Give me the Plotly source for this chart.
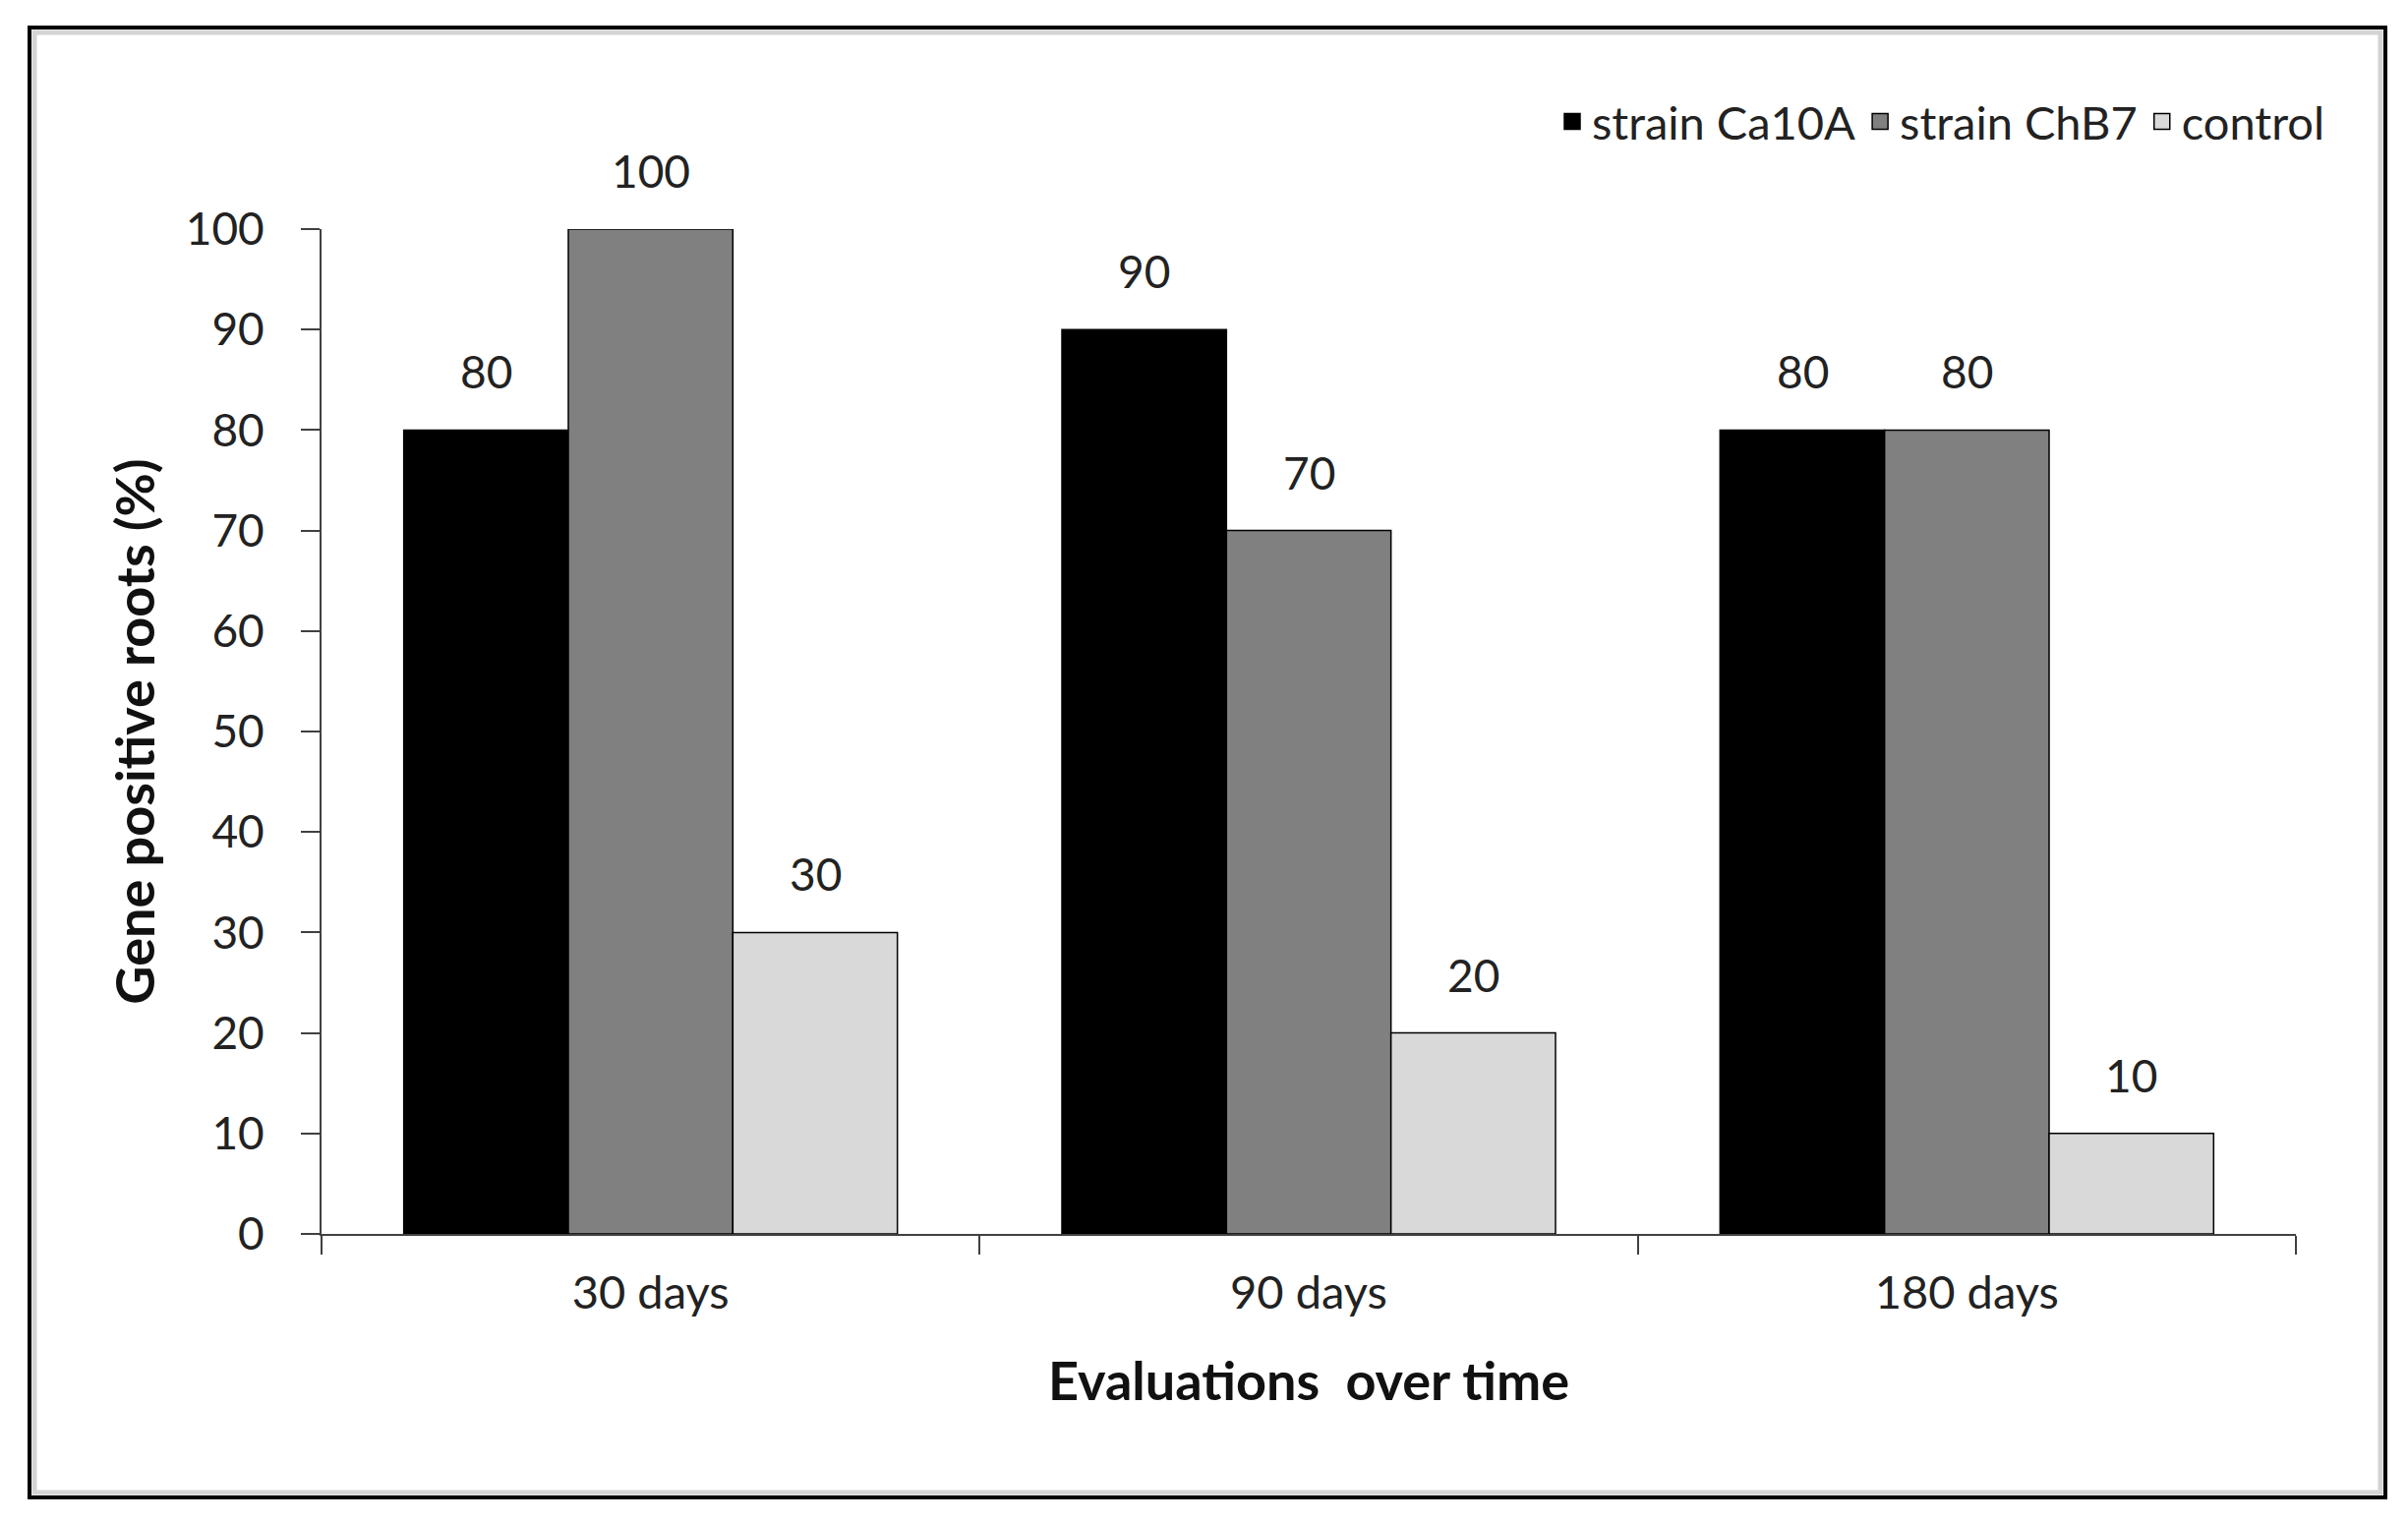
import plotly.graph_objects as go

categories = ["30 days", "90 days", "180 days"]
series_names = ["strain Ca10A", "strain ChB7", "control"]
ca10a = [80, 90, 80]
chb7 = [100, 70, 80]
control = [30, 20, 10]
series_values = [ca10a, chb7, control]
colors = ["#000000", "#808080", "#d9d9d9"]
y_ticks = [0, 10, 20, 30, 40, 50, 60, 70, 80, 90, 100]

FONT = "Lato"
W, H = 2449, 1548
L, R, T, B = 319, 122, 225, 301

fig = go.Figure()
for name, vals, col in zip(series_names, series_values, colors):
    fig.add_trace(go.Bar(
        x=categories, y=vals, name=name, showlegend=False,
        marker=dict(color=col, line=dict(color="#000000", width=1.5)),
        cliponaxis=False,
    ))
# legend entries with larger square swatches
for name, col in zip(series_names, colors):
    fig.add_trace(go.Scatter(
        x=[None], y=[None], mode="markers", name=name,
        marker=dict(symbol="square", size=24, color=col,
                    line=dict(color="#000000", width=1.5)),
    ))

# data labels above bars
nser = len(series_values)
bw = 0.75 / nser
for si, vals in enumerate(series_values):
    off = -0.375 + bw * (si + 0.5)
    for ci, v in enumerate(vals):
        fig.add_annotation(
            x=ci + off, y=v, xref="x", yref="y", text=str(v),
            showarrow=False, yanchor="bottom", yshift=30,
            font=dict(family=FONT, size=46, color="#222222"),
        )

pw = W - L - R
ph = H - T - B
def px(xp):
    return (xp - L) / pw
def py(yp):
    return (H - B - yp) / ph

# outer frame with grey inner shadow
fig.add_shape(type="rect", xref="paper", yref="paper",
              x0=px(27), x1=px(2413), y0=py(1510), y1=py(25),
              line=dict(color="#d4d4d4", width=5), layer="below")
fig.add_shape(type="rect", xref="paper", yref="paper",
              x0=px(22), x1=px(2418), y0=py(1515), y1=py(20),
              line=dict(color="#000000", width=4), layer="below")

fig.update_layout(
    width=W, height=H,
    margin=dict(l=L, r=R, t=T, b=B),
    paper_bgcolor="white", plot_bgcolor="white",
    barmode="group", bargap=0.25, bargroupgap=0,
    font=dict(family=FONT, size=46, color="#222222"),
    showlegend=True,
    legend=dict(
        orientation="h", x=px(2362), xanchor="right", y=py(116), yanchor="middle",
        font=dict(family=FONT, size=47, color="#222222"),
        itemwidth=30, tracegroupgap=0, bgcolor="rgba(0,0,0,0)",
        itemsizing="trace",
    ),
    xaxis=dict(
        type="category", showline=True, linecolor="#404040", linewidth=2,
        ticks="outside", ticklen=19, tickwidth=2, tickcolor="#404040",
        tickson="boundaries", showgrid=False, zeroline=False,
        tickfont=dict(family=FONT, size=47, color="#222222"),
        ticklabelstandoff=18,
        title=dict(text="<b>Evaluations  over time</b>",
                   font=dict(family=FONT, size=54, color="#111111"), standoff=46),
    ),
    yaxis=dict(
        range=[0, 100], tickvals=y_ticks, showline=True, linecolor="#404040",
        linewidth=2, ticks="outside", ticklen=19, tickwidth=2, tickcolor="#404040",
        showgrid=False, zeroline=False,
        tickfont=dict(family=FONT, size=46, color="#222222"),
        ticklabelstandoff=28,
        title=dict(text="<b>Gene positive roots (%)</b>",
                   font=dict(family=FONT, size=54, color="#111111"), standoff=14),
    ),
)

fig.write_html("out.html")
